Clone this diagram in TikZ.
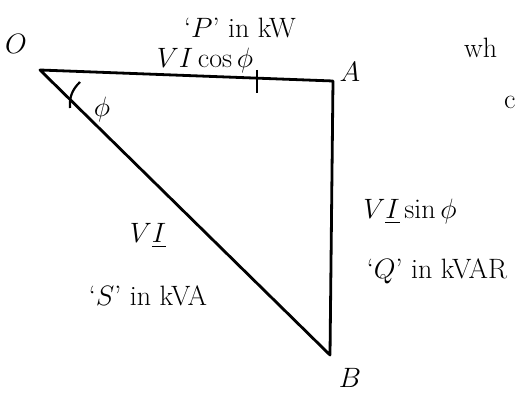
\documentclass[tikz,border=0pt]{standalone}
\usepackage{fix-cm}
\usepackage{amsmath}
\usepackage{amssymb}
\usepackage{tikz}

\begin{document}
\begin{tikzpicture}[x=1pt, y=-1pt,
                    every node/.style={inner sep=2pt},
                    side/.style={line width=2.8pt, line join=round},
                    lbl/.style={font=\fontsize{28}{32}\selectfont}]
\useasboundingbox (0,0) rectangle (515,398);
% corners of the triangle
\coordinate (O) at (40,70);
\coordinate (A) at (333,81);
\coordinate (B) at (330,355);
\draw[side] (O) -- (A) -- (B) -- cycle;
% corner names
\node[lbl] (nO) at (16,44) {$O$};
\node[lbl] (nA) at (350,72) {$A$};
\node[lbl] (nB) at (350,378) {$B$};
% angle at O
\draw[line width=2.2pt] (80,82) to[bend right=25] (70,108);
\node[lbl] (phi) at (102,110) {$\phi$};
\draw[line width=1.8pt] (257,70) -- (257,93);
% sides
\node[lbl] (P)  at (240,28)  {`$P$' in kW};
\node[lbl] (Pv) at (205,61)  {$VI\cos\phi$};
\node[lbl] (S)  at (148,236) {$V\underline{I}$};
\node[lbl] (Sv) at (148,296) {`$S$' in kVA};
\node[lbl] (Qv) at (410,212) {$V\underline{I}\sin\phi$};
\node[lbl] (Q)  at (437,271) {`$Q$' in kVAR};
% text cut at the right edge
\node[lbl, anchor=west] (wh) at (462,48) {wh};
\node[lbl, anchor=west] (c)  at (502,102) {c};
\end{tikzpicture}
\end{document}
